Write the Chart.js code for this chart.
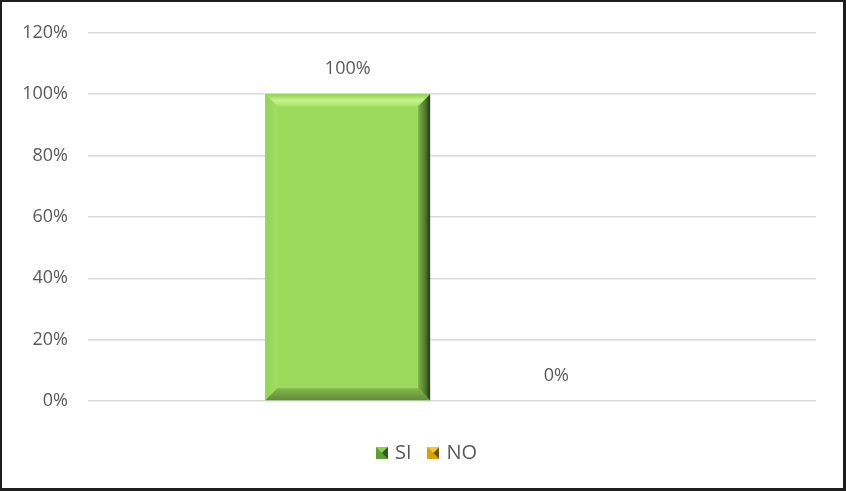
<!DOCTYPE html>
<html>
<head>
<meta charset="utf-8">
<script src="https://cdn.jsdelivr.net/npm/chart.js@4"></script>
<style>
  html, body { margin: 0; padding: 0; background: #fff; }
  #caja { width: 846px; height: 491px; box-sizing: border-box; border: 2px solid #1e1e1e; border-right-width: 3px; border-bottom-width: 3px; position: relative; }
  canvas { display: block; }
</style>
</head>
<body>
<div id="caja"><canvas id="grafico"></canvas></div>
<script>
const categorias = [''];
const serieSI = [1.0];
const serieNO = [0.0];
const etiquetasY = ['0%', '20%', '40%', '60%', '80%', '100%', '120%'];

const ctx = document.getElementById('grafico');

// marcador de la leyenda con bisel, como en Excel
function marcador(claro, medio, oscuro) {
  const c = document.createElement('canvas');
  c.width = 12; c.height = 12;
  const g = c.getContext('2d');
  g.fillStyle = medio; g.fillRect(0, 0, 12, 12);
  g.fillStyle = claro;
  g.beginPath(); g.moveTo(0, 0); g.lineTo(12, 0); g.lineTo(6, 6); g.closePath(); g.fill();
  g.fillStyle = oscuro;
  g.beginPath(); g.moveTo(12, 0); g.lineTo(12, 12); g.lineTo(6, 6); g.closePath(); g.fill();
  return c;
}

const bisel = {
  id: 'bisel',
  afterDatasetsDraw(chart) {
    const c = chart.ctx;
    chart.getDatasetMeta(0).data.forEach(bar => {
      const l = bar.x - bar.width / 2, r = bar.x + bar.width / 2;
      const t = bar.y, b = bar.base;
      if (b - t < 2) return;
      const s = 12;
      c.save();
      const poly = (pts, col) => {
        c.fillStyle = col; c.beginPath();
        c.moveTo(pts[0][0], pts[0][1]);
        pts.slice(1).forEach(p => c.lineTo(p[0], p[1]));
        c.closePath(); c.fill();
      };
      let gt = c.createLinearGradient(0, t, 0, t + s);
      gt.addColorStop(0, '#8fd04e'); gt.addColorStop(0.5, '#c4f38c'); gt.addColorStop(1, '#a8e46c');
      poly([[l, t], [r, t], [r - s, t + s], [l + s, t + s]], gt);
      let gl = c.createLinearGradient(l, 0, l + s, 0);
      gl.addColorStop(0, '#92d452'); gl.addColorStop(1, '#a3de66');
      poly([[l, t], [l + s, t + s], [l + s, b - s], [l, b]], gl);
      let gb = c.createLinearGradient(0, b - s, 0, b);
      gb.addColorStop(0, '#82b84c'); gb.addColorStop(1, '#5f8c34');
      poly([[l, b], [l + s, b - s], [r - s, b - s], [r, b]], gb);
      let gr = c.createLinearGradient(r - s, 0, r, 0);
      gr.addColorStop(0, '#7fb14a'); gr.addColorStop(0.6, '#4f7a2a'); gr.addColorStop(1, '#23361a');
      poly([[r, t], [r, b], [r - s, b - s], [r - s, t + s]], gr);
      c.restore();
    });
  }
};

const etiquetas = {
  id: 'etiquetas',
  afterDatasetsDraw(chart) {
    const c = chart.ctx;
    c.save();
    c.font = '18px "Open Sans", sans-serif';
    c.fillStyle = '#595959';
    c.textAlign = 'center';
    c.textBaseline = 'middle';
    chart.data.datasets.forEach((ds, i) => {
      chart.getDatasetMeta(i).data.forEach((bar, j) => {
        c.fillText(Math.round(ds.data[j] * 100) + '%', bar.x, bar.y - 25);
      });
    });
    c.restore();
  }
};

// la leyenda de Excel queda centrada un poco mas a la derecha
const moverLeyenda = {
  id: 'moverLeyenda',
  afterLayout(chart) {
    if (chart.legend) {
      chart.legend.left += 19;
      chart.legend.right += 19;
    }
  }
};

new Chart(ctx, {
  type: 'bar',
  data: {
    labels: categorias,
    datasets: [
      { label: 'SI', data: serieSI, backgroundColor: '#9cda5b', categoryPercentage: 0.573, barPercentage: 0.79,
        pointStyle: marcador('#8fd04e', '#5fa034', '#2f5a1a') },
      { label: 'NO', data: serieNO, backgroundColor: '#e5b000', categoryPercentage: 0.573, barPercentage: 0.79,
        pointStyle: marcador('#f5c93a', '#d8a200', '#6a5000') }
    ]
  },
  options: {
    responsive: true,
    maintainAspectRatio: false,
    animation: false,
    layout: { padding: { top: 23, right: 27, bottom: 15, left: 0 } },
    plugins: {
      tooltip: { enabled: false },
      legend: {
        position: 'bottom',
        labels: {
          usePointStyle: true,
          boxWidth: 6,
          boxHeight: 12,
          color: '#595959',
          font: { family: '"Open Sans", sans-serif', size: 20 },
          padding: 19
        }
      }
    },
    scales: {
      x: {
        grid: { display: false },
        border: { display: false },
        ticks: { display: false },
        afterFit(scale) { scale.height = 23; }
      },
      y: {
        min: 0, max: 1.2,
        ticks: {
          stepSize: 0.2,
          color: '#595959',
          font: { family: '"Open Sans", sans-serif', size: 18 },
          padding: 20,
          callback: (v, i) => etiquetasY[i]
        },
        grid: { color: '#d9d9d9', lineWidth: 1.5, drawTicks: false },
        border: { display: false },
        afterFit(scale) { scale.width = 86; }
      }
    }
  },
  plugins: [bisel, etiquetas, moverLeyenda]
});
</script>
</body>
</html>
